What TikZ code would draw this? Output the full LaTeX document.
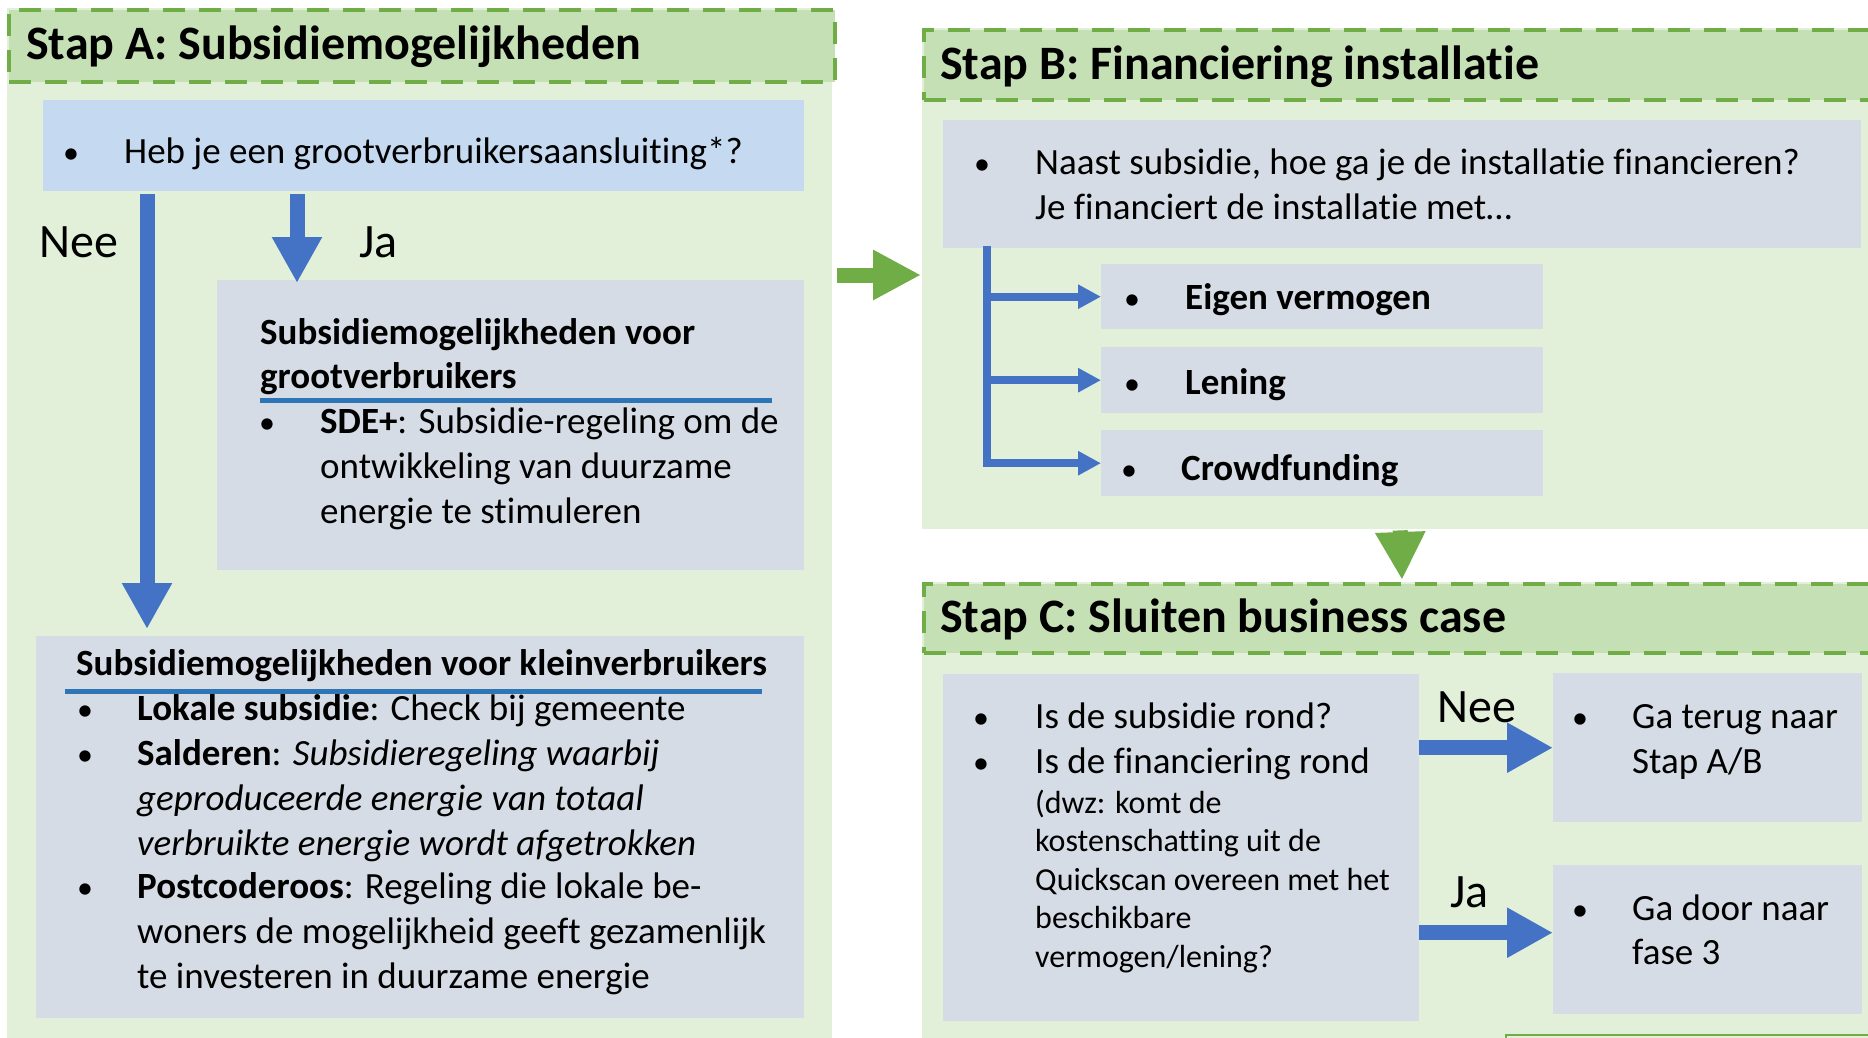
\documentclass[tikz,border=0pt]{standalone}
\usepackage{fontspec}
\setmainfont{Carlito}[Ligatures=NoCommon]
\usetikzlibrary{arrows.meta}

\definecolor{bggreen}{HTML}{E2F0D9}
\definecolor{hdgreen}{HTML}{C5E0B4}
\definecolor{dashgreen}{HTML}{70AD47}
\definecolor{boxgray}{HTML}{D6DCE5}
\definecolor{boxblue}{HTML}{C5D9F1}
\definecolor{arrowblue}{HTML}{4472C4}
\definecolor{lineblue}{HTML}{2E75B6}

\newcommand{\stapfont}{\fontsize{48}{56}\selectfont\bfseries}
\newcommand{\bodyfont}{\fontsize{37}{45}\selectfont}
\newcommand{\smallfont}{\fontsize{32}{38.5}\selectfont}
\newcommand{\labfont}{\fontsize{48}{56}\selectfont}
\newcommand{\rows}[1]{\begin{tabular}[t]{@{}l@{}}#1\end{tabular}}

\begin{document}
\begin{tikzpicture}[x=1pt,y=-1pt,
    panel/.style={fill=bggreen, anchor=north west, inner sep=0pt},
    header/.style={fill=hdgreen, draw=dashgreen, line width=4pt,
      dash pattern=on 22pt off 14pt, anchor=north west, inner sep=0pt},
    box/.style={fill=boxgray, anchor=north west, inner sep=0pt},
    txt/.style={anchor=base west, inner sep=0pt, font=\bodyfont},
    dot/.style={anchor=base west, inner sep=0pt, font=\fontsize{32}{38}\selectfont},
    bigarrow/.style={draw=arrowblue, line width=15pt, -{Triangle[width=47pt,length=46pt]}},
    greenarrow/.style={draw=dashgreen, line width=15pt, -{Triangle[width=47pt,length=48pt]}},
    treearrow/.style={draw=arrowblue, line width=8pt, -{Triangle[width=23pt,length=23pt]}}]
  \useasboundingbox (0,0) rectangle (1868,1038);
  \clip (0,0) rectangle (1868,1038);

  \node[panel, minimum width=825pt, minimum height=1040pt] (pa) at (7,8) {};
  \node[panel, minimum width=960pt, minimum height=501pt]  (pb) at (922,28) {};
  \node[panel, minimum width=960pt, minimum height=470pt]  (pc) at (922,582) {};
  \node[header, minimum width=826pt, minimum height=72pt] (ha) at (7,8) {};
  \node[header, minimum width=960pt, minimum height=70pt] (hb) at (922,28) {};
  \node[header, minimum width=960pt, minimum height=69pt] (hc) at (922,582) {};
  \node[txt, font=\stapfont] (ta) at (26,60)  {Stap A: Subsidiemogelijkheden};
  \node[txt, font=\stapfont] (tb) at (940,80) {Stap B: Financiering installatie};
  \node[txt, font=\stapfont] (tc) at (940,632) {Stap C: Sluiten business case};

  \node[box, fill=boxblue, minimum width=761pt, minimum height=91pt] (qa) at (43,100) {};
  \node[box, minimum width=587pt, minimum height=290pt] (gv) at (217,280) {};
  \node[box, minimum width=768pt, minimum height=382pt] (kv) at (36,636) {};
  \node[box, minimum width=918pt, minimum height=128pt] (qb) at (943,120) {};
  \node[box, minimum width=442pt, minimum height=65pt]  (o1) at (1101,264) {};
  \node[box, minimum width=442pt, minimum height=66pt]  (o2) at (1101,347) {};
  \node[box, minimum width=442pt, minimum height=66pt]  (o3) at (1101,430) {};
  \node[box, minimum width=476pt, minimum height=347pt] (qc) at (943,674) {};
  \node[box, minimum width=309pt, minimum height=149pt] (nc) at (1553,673) {};
  \node[box, minimum width=309pt, minimum height=149pt] (jc) at (1553,865) {};
  \node[draw=dashgreen, line width=2pt, anchor=north west, minimum width=400pt,
    minimum height=60pt] (nx) at (1505,1034) {};

  \node[dot] (qab) at (63,163)  {•};
  \node[txt] (qat) at (124,163) {Heb je een grootverbruikersaansluiting*?};
  \node[txt, font=\labfont] (nee1) at (39,257)  {Nee};
  \node[txt, font=\labfont] (ja1)  at (359,257) {Ja};

  \node[txt, font=\bodyfont\bfseries] (gvt) at (260,344)
    {\rows{Subsidiemogelijkheden voor\\[-1pt]grootverbruikers}};
  \draw[lineblue, line width=5pt] (260,400) -- (772,400);
  \node[dot] (gvb) at (259,433) {•};
  \node[txt] (gvs) at (320,433)
    {\rows{\textbf{SDE+}: Subsidie-regeling om de\\ontwikkeling van duurzame\\energie te stimuleren}};

  \node[txt, font=\bodyfont\bfseries] (kvt) at (76,675)
    {Subsidiemogelijkheden voor kleinverbruikers};
  \draw[lineblue, line width=5pt] (65,691) -- (762,691);
  \node[dot] (kvb1) at (77,720) {•};
  \node[txt] (kvs1) at (137,720) {\textbf{Lokale subsidie}: Check bij gemeente};
  \node[dot] (kvb2) at (77,765) {•};
  \node[txt] (kvs2) at (137,765)
    {\rows{\textbf{Salderen}: \textit{Subsidieregeling waarbij}\\
     \textit{geproduceerde energie van totaal}\\
     \textit{verbruikte energie wordt afgetrokken}}};
  \node[dot] (kvb3) at (77,898) {•};
  \node[txt] (kvs3) at (137,898)
    {\rows{\textbf{Postcoderoos}: Regeling die lokale be-\\
     woners de mogelijkheid geeft gezamenlijk\\
     te investeren in duurzame energie}};

  \node[dot] (qbb) at (974,175)  {•};
  \node[txt] (qbt) at (1035,175)
    {\rows{Naast subsidie, hoe ga je de installatie financieren?\\[-1pt]Je financiert de installatie met…}};
  \node[dot] (o1b) at (1124,309) {•};
  \node[txt, font=\bodyfont\bfseries] (o1t) at (1185,309) {Eigen vermogen};
  \node[dot] (o2b) at (1124,394) {•};
  \node[txt, font=\bodyfont\bfseries] (o2t) at (1185,394) {Lening};
  \node[dot] (o3b) at (1121,480) {•};
  \node[txt, font=\bodyfont\bfseries] (o3t) at (1181,480) {Crowdfunding};

  \node[dot] (qcb1) at (973,728)  {•};
  \node[txt] (qct1) at (1035,728) {Is de subsidie rond?};
  \node[dot] (qcb2) at (973,773)  {•};
  \node[txt] (qct2) at (1035,773) {Is de financiering rond};
  \node[txt, font=\smallfont] (qct3) at (1035,813)
    {\rows{(dwz: komt de\\kostenschatting uit de\\Quickscan overeen met het\\beschikbare\\vermogen/lening?}};
  \node[dot] (ncb) at (1572,728) {•};
  \node[txt] (nct) at (1632,728) {\rows{Ga terug naar\\Stap A/B}};
  \node[dot] (jcb) at (1572,920) {•};
  \node[txt] (jct) at (1632,920) {\rows{Ga door naar\\[-1pt]fase 3}};
  \node[txt, font=\labfont] (nee2) at (1437,722) {Nee};
  \node[txt, font=\labfont] (ja2)  at (1450,907) {Ja};

  \draw[bigarrow] ([xshift=104pt,yshift=-3pt]qa.south west) -- ([xshift=111pt,yshift=7pt]kv.north west);
  \draw[bigarrow] ([xshift=254pt,yshift=-3pt]qa.south west) -- ([xshift=80pt,yshift=-3pt]gv.north west);
  \draw[bigarrow] (qc.east |- nc.west) -- (nc.west);
  \draw[bigarrow] ([yshift=7pt]qc.east |- jc.west) -- ([yshift=7pt]jc.west);
  \draw[greenarrow] ([xshift=5pt,yshift=-267pt]pa.north east) -- ([xshift=-1pt,yshift=-247pt]pb.north west);
  \draw[greenarrow] ([xshift=-2pt,yshift=-1pt]pb.south) -- ([xshift=-2pt,yshift=2pt]hc.north);

  \coordinate (trunk) at ([xshift=44pt,yshift=2pt]qb.south west);
  \draw[treearrow] (trunk) |- (o3.west);
  \draw[treearrow] (trunk |- o1.west) -- (o1.west);
  \draw[treearrow] (trunk |- o2.west) -- (o2.west);
\end{tikzpicture}
\end{document}
